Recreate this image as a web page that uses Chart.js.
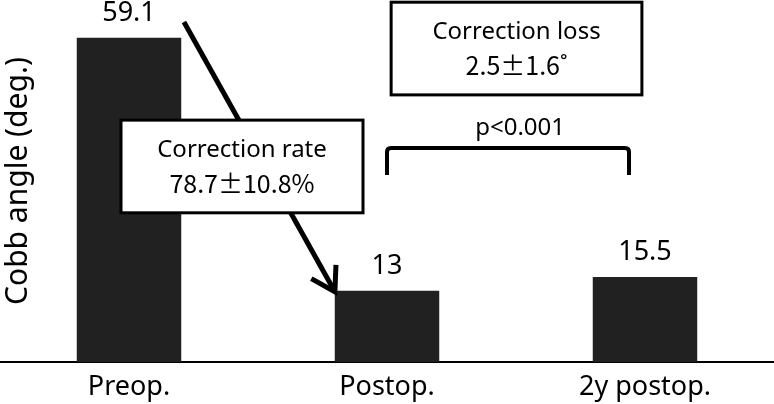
<!DOCTYPE html>
<html>
<head>
<meta charset="utf-8">
<script src="https://cdn.jsdelivr.net/npm/chart.js@4/dist/chart.umd.min.js"></script>
<style>
  body { margin: 0; background: #fff; }
  canvas { display: block; }
</style>
</head>
<body>
<canvas id="cobbChart" width="774" height="404"></canvas>
<script>
// Data
const categories = ['Preop.', 'Postop.', '2y postop.'];
const cobbAngles = [59.1, 13, 15.5];
const valueLabels = ['59.1', '13', '15.5'];
const yTitle = 'Cobb angle (deg.)';

// Annotation text
const rateLines = ['Correction rate', '78.7\u00B110.8%'];
const lossLines = ['Correction loss', '2.5\u00B11.6\u02DA'];
const pText = 'p<0.001';

const FONT = '"Noto Sans", sans-serif';
const CJK_FONT = '"Noto Sans CJK JP", "Noto Sans", sans-serif';

// Annotation anchors in data space (category index, degrees)
const arrowFrom = [0.213, 62.0];
const arrowTo = [0.798, 12.8];
const rateBox = [-0.031, 0.907, 44.1, 27.2];
const lossBox = [1.016, 1.988, 65.6, 48.7];
const pPos = [1.516, 42.7];
const bracket = [1.0, 1.938, 39.0, 34.1];

const valueLabelPlugin = {
    id: 'valueLabels',
    afterDatasetsDraw(chart) {
        const ctx = chart.ctx;
        const meta = chart.getDatasetMeta(0);
        ctx.save();
        ctx.fillStyle = '#000';
        ctx.font = '27px ' + FONT;
        ctx.textAlign = 'center';
        ctx.textBaseline = 'bottom';
        meta.data.forEach((bar, i) => {
            ctx.fillText(valueLabels[i], bar.x, bar.y - 11);
        });
        ctx.restore();
    }
};

const annotationPlugin = {
    id: 'annotations',
    afterDraw(chart) {
        const ctx = chart.ctx;
        const xs = chart.scales.x, ys = chart.scales.y;
        const px = v => xs.getPixelForValue(v);
        const py = v => ys.getPixelForValue(v);
        ctx.save();

        // y axis title
        ctx.save();
        ctx.translate(18, 181);
        ctx.rotate(-Math.PI / 2);
        ctx.font = '30px ' + FONT;
        ctx.fillStyle = '#000';
        ctx.textAlign = 'center';
        ctx.textBaseline = 'middle';
        ctx.fillText(yTitle, 0, 0);
        ctx.restore();

        // arrow
        const x1 = px(arrowFrom[0]), y1 = py(arrowFrom[1]);
        const x2 = px(arrowTo[0]), y2 = py(arrowTo[1]);
        ctx.strokeStyle = '#000';
        ctx.lineWidth = 5;
        ctx.lineCap = 'butt';
        ctx.beginPath();
        ctx.moveTo(x1, y1);
        ctx.lineTo(x2, y2);
        ctx.stroke();
        const ang = Math.atan2(y2 - y1, x2 - x1);
        const head = 27, spread = 0.55;
        ctx.lineJoin = 'miter';
        ctx.beginPath();
        ctx.moveTo(x2 - head * Math.cos(ang - spread), y2 - head * Math.sin(ang - spread));
        ctx.lineTo(x2, y2);
        ctx.lineTo(x2 - head * Math.cos(ang + spread), y2 - head * Math.sin(ang + spread));
        ctx.stroke();

        // boxes
        function drawBox(box, lines) {
            const l = px(box[0]), r = px(box[1]), t = py(box[2]), b = py(box[3]);
            ctx.fillStyle = '#fff';
            ctx.fillRect(l, t, r - l, b - t);
            ctx.lineWidth = 3;
            ctx.strokeStyle = '#000';
            ctx.strokeRect(l, t, r - l, b - t);
            ctx.fillStyle = '#000';
            ctx.textAlign = 'center';
            ctx.textBaseline = 'middle';
            const cx = (l + r) / 2, cy = (t + b) / 2;
            ctx.font = '24px ' + FONT;
            ctx.fillText(lines[0], cx, cy - 16);
            ctx.font = '25px ' + CJK_FONT;
            ctx.fillText(lines[1], cx, cy + 17);
        }
        drawBox(rateBox, rateLines);
        drawBox(lossBox, lossLines);

        // p value and bracket
        ctx.fillStyle = '#000';
        ctx.font = '24px ' + FONT;
        ctx.textAlign = 'center';
        ctx.textBaseline = 'middle';
        ctx.fillText(pText, px(pPos[0]), py(pPos[1]));

        const bl = px(bracket[0]), br = px(bracket[1]);
        const bt = py(bracket[2]), bb = py(bracket[3]);
        ctx.lineWidth = 4;
        ctx.lineJoin = 'round';
        ctx.beginPath();
        ctx.moveTo(bl, bb);
        ctx.lineTo(bl, bt + 4);
        ctx.quadraticCurveTo(bl, bt, bl + 4, bt);
        ctx.lineTo(br - 4, bt);
        ctx.quadraticCurveTo(br, bt, br, bt + 4);
        ctx.lineTo(br, bb);
        ctx.stroke();

        ctx.restore();
    }
};

new Chart(document.getElementById('cobbChart'), {
    type: 'bar',
    data: {
        labels: categories,
        datasets: [{
            data: cobbAngles,
            backgroundColor: '#212121',
            borderWidth: 0,
            categoryPercentage: 1,
            barPercentage: 0.405
        }]
    },
    options: {
        responsive: false,
        animation: false,
        layout: { padding: 0 },
        plugins: {
            legend: { display: false },
            tooltip: { enabled: false }
        },
        scales: {
            y: {
                display: false,
                min: 0,
                max: 66
            },
            x: {
                grid: { display: false, drawTicks: false },
                border: { display: true, color: '#000', width: 2 },
                ticks: {
                    color: '#000',
                    padding: 9,
                    font: { family: FONT, size: 27 }
                },
                afterFit(scale) { scale.height = 42; }
            }
        }
    },
    plugins: [valueLabelPlugin, annotationPlugin]
});
</script>
</body>
</html>
